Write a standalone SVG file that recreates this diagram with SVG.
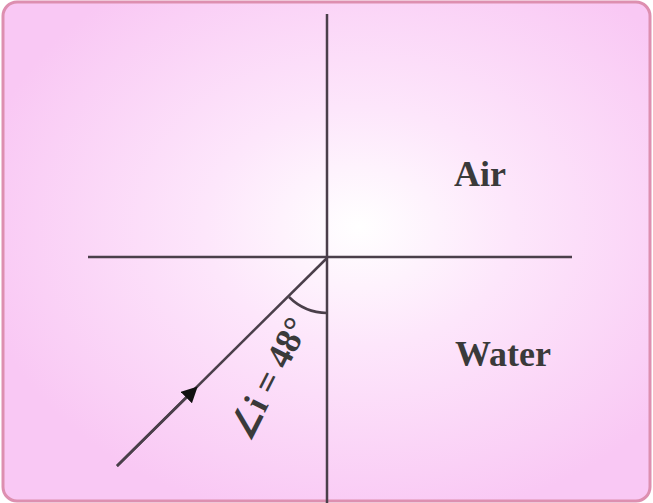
<svg xmlns="http://www.w3.org/2000/svg" width="653" height="503" viewBox="0 0 653 503">
<defs>
<radialGradient id="bg" cx="0.55" cy="0.45" r="0.6">
<stop offset="0" stop-color="#ffffff"/>
<stop offset="0.4" stop-color="#fde6fb"/>
<stop offset="1" stop-color="#f9c8f4"/>
</radialGradient>
<marker id="arr" viewBox="0 0 10 10" refX="5" refY="5" markerWidth="16" markerHeight="16" markerUnits="userSpaceOnUse" orient="auto">
<path d="M0,0 L10,5 L0,10 z" fill="#111"/>
</marker>
<style>
.ln{stroke:#4a3f4a;stroke-width:2.5;fill:none}
.lbl{font-family:"Liberation Serif",serif;font-size:36px;fill:#3a3a3a;font-weight:bold}
</style>
</defs>
<rect x="3" y="2" width="647" height="499" rx="14" fill="url(#bg)" stroke="#dd8fb0" stroke-width="3"/>
<g id="connectors">
<line class="ln" x1="327" y1="14" x2="327" y2="503"/>
<line class="ln" x1="88" y1="257" x2="572" y2="257"/>
<line class="ln" x1="117" y1="466" x2="327" y2="258"/>
<line class="ln" x1="117" y1="466" x2="192" y2="392" marker-end="url(#arr)"/>
<path class="ln" d="M289,297 A55,55 0 0 0 327,313"/>
</g>
<g id="air"><text class="lbl" x="454" y="186">Air</text></g>
<g id="water"><text class="lbl" x="455" y="366">Water</text></g>
<g id="angle"><text class="lbl" font-size="30" transform="translate(250,442) rotate(-63)">∠i = 48°</text></g>
</svg>
